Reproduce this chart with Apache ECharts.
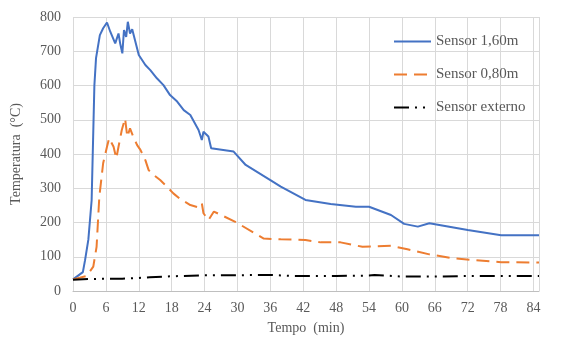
<!DOCTYPE html>
<html>
<head>
<meta charset="utf-8">
<script src="https://cdn.jsdelivr.net/npm/echarts@6/dist/echarts.min.js"></script>
<style>
html, body { margin: 0; padding: 0; background: #fff; }
#chart { width: 561px; height: 351px; }
</style>
</head>
<body>
<div id="chart"></div>
<script>
// Sensor 1,60m
var t160 = [0, 1.8, 2.2, 2.8, 3.4, 3.9, 4.2, 4.9, 5.5, 6.2, 6.8, 7.7, 8.3, 8.6, 9.0, 9.3, 9.7, 10.0, 10.4, 10.8, 11.3, 11.6, 12.0, 13.2, 14.1, 15.3, 16.5, 17.7, 19.0, 20.2, 21.4, 22.9, 23.5, 23.8, 24.7, 25.2, 29.3, 31.5, 36.0, 37.9, 42.4, 47.0, 51.6, 54.0, 58.0, 60.4, 62.9, 65.0, 72.0, 78.1, 85];
var v160 = [34, 55, 90, 150, 265, 600, 680, 747, 767, 784, 757, 723, 752, 723, 694, 762, 742, 786, 752, 764, 733, 733, 689, 660, 645, 621, 601, 572, 553, 528, 514, 470, 441, 465, 451, 417, 407, 368, 324, 305, 266, 254, 246, 246, 222, 196, 188, 198, 178, 163, 163];
// Sensor 0,80m
var t080 = [0, 2.5, 3.7, 4.3, 4.8, 5.5, 6.2, 6.6, 7.4, 7.9, 8.3, 8.9, 9.5, 9.9, 10.4, 11.0, 11.7, 12.3, 13.2, 13.8, 14.7, 15.9, 17.1, 18.3, 19.6, 21.4, 22.9, 23.5, 23.8, 24.7, 25.7, 29.6, 34.8, 37.9, 42.4, 45.2, 48.8, 52.8, 58.0, 61.0, 65.0, 69.6, 78.1, 85];
var v080 = [34, 44, 71, 129, 275, 373, 421, 446, 421, 387, 421, 470, 504, 450, 475, 450, 426, 412, 382, 353, 339, 324, 305, 285, 268, 251, 244, 256, 227, 207, 232, 202, 153, 151, 149, 142, 142, 129, 132, 122, 107, 95, 84, 83];
// Sensor externo
var tExt = [0, 3, 6, 9, 12, 14, 18, 24, 30, 36, 40, 48, 54, 55, 60, 66, 72, 78, 85];
var vExt = [33, 35, 36, 36, 38, 40, 43, 46, 46, 47, 44, 44, 45, 47, 42, 42, 44, 44, 44];

function pairs(t, v) { return t.map(function (x, i) { return [x, v[i]]; }); }

var font = 'Liberation Serif';
var chart = echarts.init(document.getElementById('chart'));
chart.setOption({
  animation: false,
  grid: { left: 73, right: 22, top: 17, bottom: 60 },
  legend: {
    orient: 'vertical',
    left: 388,
    top: 29,
    itemWidth: 37,
    itemHeight: 14,
    itemGap: 18,
    itemStyle: { opacity: 0 },
    textStyle: { fontFamily: font, fontSize: 15, color: '#595959' },
    data: ['Sensor 1,60m', 'Sensor 0,80m', 'Sensor externo']
  },
  xAxis: {
    type: 'value',
    min: 0, max: 85, interval: 6,
    name: 'Tempo  (min)',
    nameLocation: 'middle',
    nameGap: 30,
    nameTextStyle: { fontFamily: font, fontSize: 14, color: '#595959' },
    axisLine: { lineStyle: { color: '#BFBFBF' } },
    axisTick: { show: false },
    axisLabel: { fontFamily: font, fontSize: 14, color: '#595959', showMaxLabel: false, margin: 10 },
    splitLine: { show: true, lineStyle: { color: '#D9D9D9' } }
  },
  yAxis: {
    type: 'value',
    min: 0, max: 800, interval: 100,
    name: 'Temperatura  (°C)',
    nameLocation: 'middle',
    nameGap: 50,
    nameTextStyle: { fontFamily: font, fontSize: 14, color: '#595959' },
    axisLine: { show: false },
    axisTick: { show: false },
    axisLabel: { fontFamily: font, fontSize: 14, color: '#595959', margin: 12 },
    splitLine: { lineStyle: { color: '#D9D9D9' } }
  },
  series: [
    {
      name: 'Sensor 1,60m', type: 'line', symbol: 'none',
      data: pairs(t160, v160),
      lineStyle: { color: '#4472C4', width: 2 },
      itemStyle: { color: '#4472C4' }
    },
    {
      name: 'Sensor 0,80m', type: 'line', symbol: 'none',
      data: pairs(t080, v080),
      lineStyle: { color: '#ED7D31', width: 2, type: [13, 7] },
      itemStyle: { color: '#ED7D31' }
    },
    {
      name: 'Sensor externo', type: 'line', symbol: 'none',
      data: pairs(tExt, vExt),
      lineStyle: { color: '#000000', width: 2, type: [15, 6, 2, 6, 2, 6] },
      itemStyle: { color: '#000000' }
    }
  ]
});
</script>
</body>
</html>
